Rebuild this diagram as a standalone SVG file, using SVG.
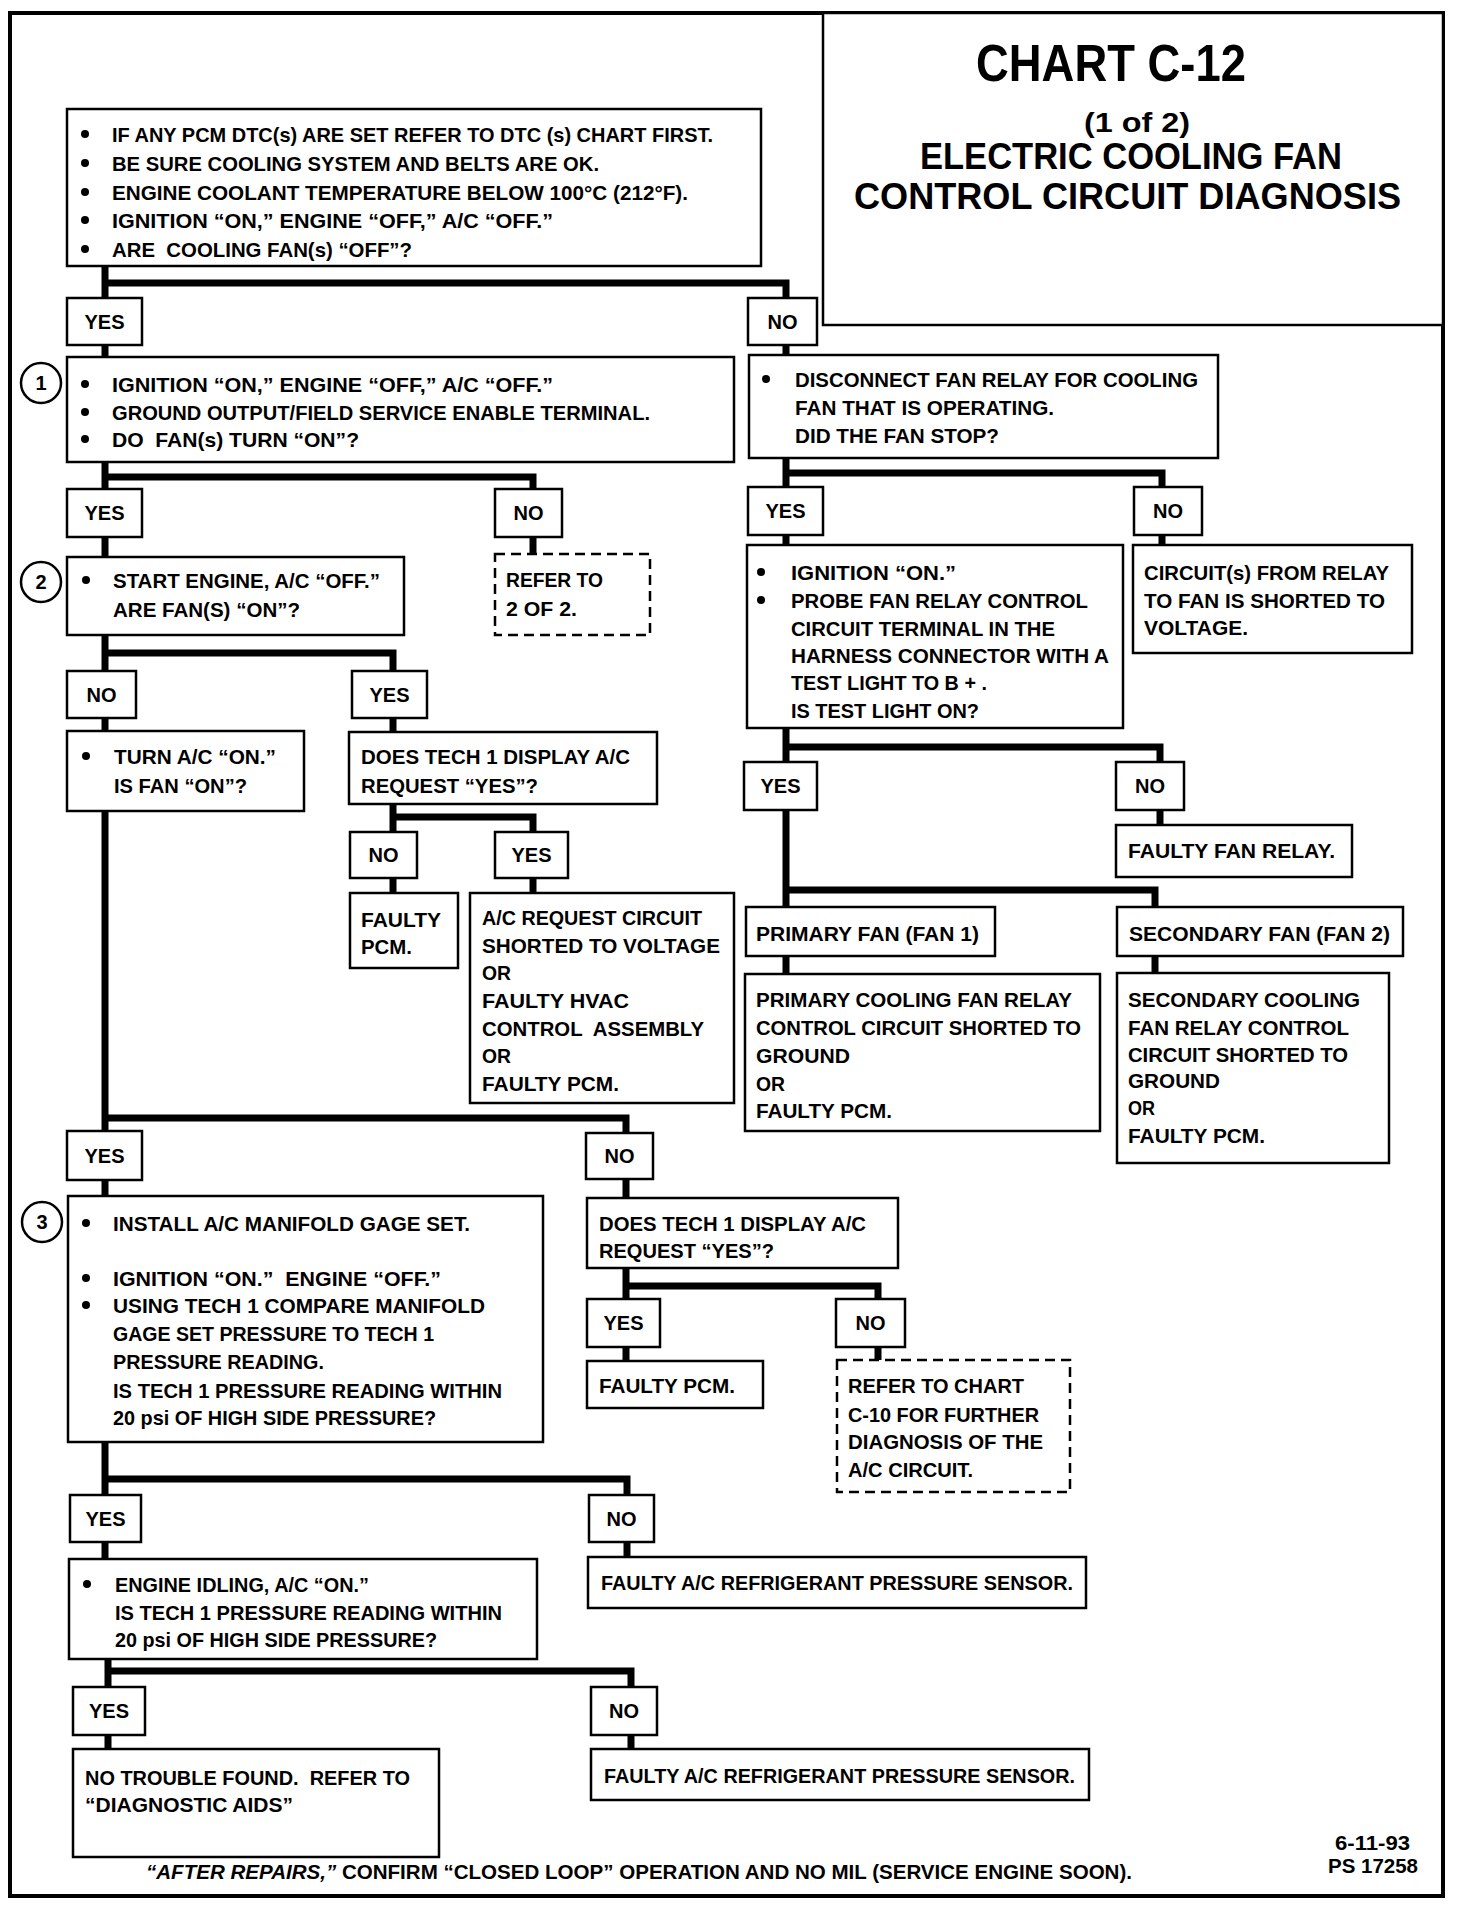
<svg xmlns="http://www.w3.org/2000/svg" width="1472" height="1906" viewBox="0 0 1472 1906">
<style>
.bg{fill:#fff}
.frame{fill:none;stroke:#000;stroke-width:4}
.tbox{fill:#fff;stroke:#000;stroke-width:2.5}
.box{fill:#fff;stroke:#000;stroke-width:2.5}
.dash{fill:#fff;stroke:#000;stroke-width:2.5;stroke-dasharray:10 6}
.conn{fill:none;stroke:#000;stroke-width:7;stroke-linejoin:miter;stroke-linecap:butt}
.t{font-family:"Liberation Sans",Arial,sans-serif;font-weight:bold;font-size:21px;fill:#000;white-space:pre}
.lbl{font-family:"Liberation Sans",Arial,sans-serif;font-weight:bold;font-size:20px;fill:#000;text-anchor:middle}
.ttl{font-family:"Liberation Sans",Arial,sans-serif;font-weight:bold;fill:#000}
.num{font-family:"Liberation Sans",Arial,sans-serif;font-weight:bold;font-size:20px;fill:#000;text-anchor:middle}
.circ{fill:#fff;stroke:#000;stroke-width:2.5}
.bul{fill:#000}
.it{font-style:italic}
</style>
<rect class="bg" x="0" y="0" width="1472" height="1906"/>
<rect class="frame" x="10" y="13" width="1433" height="1883"/>

<g id="title">
<rect class="tbox" x="823" y="13" width="620" height="312"/>
<text class="ttl" x="976" y="81" font-size="52" textLength="270" lengthAdjust="spacingAndGlyphs">CHART C-12</text>
<text class="ttl" x="1084" y="132" font-size="28" textLength="106" lengthAdjust="spacingAndGlyphs">(1 of 2)</text>
<text class="ttl" x="920" y="169" font-size="37" textLength="422" lengthAdjust="spacingAndGlyphs">ELECTRIC COOLING FAN</text>
<text class="ttl" x="854" y="209" font-size="37" textLength="547" lengthAdjust="spacingAndGlyphs">CONTROL CIRCUIT DIAGNOSIS</text>
</g>

<g id="connectors">
<path class="conn" d="M105,266 V357 M105,283 H786 V355"/>
<path class="conn" d="M105,462 V557 M105,477 H533 V554"/>
<path class="conn" d="M105,635 V731 M105,653 H393 V732"/>
<path class="conn" d="M393,804 V893 M393,817 H533 V893"/>
<path class="conn" d="M105,811 V1196 M105,1118 H626 V1198"/>
<path class="conn" d="M626,1268 V1361 M626,1286 H878 V1360"/>
<path class="conn" d="M105,1442 V1559 M105,1479 H627 V1557"/>
<path class="conn" d="M108,1659 V1749 M108,1671 H631 V1749"/>
<path class="conn" d="M786,458 V545 M786,473 H1162 V545"/>
<path class="conn" d="M786,728 V974 M786,747 H1160 V825 M786,890 H1155 V973"/>
</g>

<g id="n-start">
<rect class="box" x="67" y="109" width="694" height="157"/>
<circle class="bul" cx="85" cy="134" r="4"/>
<circle class="bul" cx="85" cy="163" r="4"/>
<circle class="bul" cx="85" cy="192" r="4"/>
<circle class="bul" cx="85" cy="220" r="4"/>
<circle class="bul" cx="85" cy="249" r="4"/>
<text class="t" x="112" y="142" textLength="601" lengthAdjust="spacingAndGlyphs">IF ANY PCM DTC(s) ARE SET REFER TO DTC (s) CHART FIRST.</text>
<text class="t" x="112" y="171" textLength="487" lengthAdjust="spacingAndGlyphs">BE SURE COOLING SYSTEM AND BELTS ARE OK.</text>
<text class="t" x="112" y="200" textLength="576" lengthAdjust="spacingAndGlyphs">ENGINE COOLANT TEMPERATURE BELOW 100°C (212°F).</text>
<text class="t" x="112" y="228" textLength="441" lengthAdjust="spacingAndGlyphs">IGNITION “ON,” ENGINE “OFF,” A/C “OFF.”</text>
<text class="t" x="112" y="257" textLength="300" lengthAdjust="spacingAndGlyphs">ARE  COOLING FAN(s) “OFF”?</text>
</g>

<g id="l-yes-1"><rect class="box" x="67" y="298" width="75" height="47"/><text class="lbl" x="104.5" y="329">YES</text></g>
<g id="l-no-1"><rect class="box" x="748" y="298" width="69" height="47"/><text class="lbl" x="782.5" y="329">NO</text></g>

<g id="n-step1">
<rect class="box" x="67" y="357" width="667" height="105"/>
<circle class="circ" cx="41" cy="383" r="20"/>
<text class="num" x="41" y="390">1</text>
<circle class="bul" cx="85" cy="384" r="4"/>
<circle class="bul" cx="85" cy="412" r="4"/>
<circle class="bul" cx="85" cy="439" r="4"/>
<text class="t" x="112" y="392" textLength="441" lengthAdjust="spacingAndGlyphs">IGNITION “ON,” ENGINE “OFF,” A/C “OFF.”</text>
<text class="t" x="112" y="420" textLength="538" lengthAdjust="spacingAndGlyphs">GROUND OUTPUT/FIELD SERVICE ENABLE TERMINAL.</text>
<text class="t" x="112" y="447" textLength="247" lengthAdjust="spacingAndGlyphs">DO  FAN(s) TURN “ON”?</text>
</g>

<g id="n-disconnect">
<rect class="box" x="749" y="355" width="469" height="103"/>
<circle class="bul" cx="766" cy="379" r="4"/>
<text class="t" x="795" y="387" textLength="403" lengthAdjust="spacingAndGlyphs">DISCONNECT FAN RELAY FOR COOLING</text>
<text class="t" x="795" y="415" textLength="259" lengthAdjust="spacingAndGlyphs">FAN THAT IS OPERATING.</text>
<text class="t" x="795" y="443" textLength="204" lengthAdjust="spacingAndGlyphs">DID THE FAN STOP?</text>
</g>

<g id="l-yes-2"><rect class="box" x="67" y="489" width="75" height="48"/><text class="lbl" x="104.5" y="520">YES</text></g>
<g id="l-no-2"><rect class="box" x="495" y="489" width="67" height="48"/><text class="lbl" x="528.5" y="520">NO</text></g>
<g id="l-yes-r1"><rect class="box" x="748" y="487" width="75" height="48"/><text class="lbl" x="785.5" y="518">YES</text></g>
<g id="l-no-r1"><rect class="box" x="1134" y="487" width="68" height="48"/><text class="lbl" x="1168" y="518">NO</text></g>

<g id="n-step2">
<rect class="box" x="67" y="557" width="337" height="78"/>
<circle class="circ" cx="41" cy="582" r="20"/>
<text class="num" x="41" y="589">2</text>
<circle class="bul" cx="86" cy="580" r="4"/>
<text class="t" x="113" y="588" textLength="267" lengthAdjust="spacingAndGlyphs">START ENGINE, A/C “OFF.”</text>
<text class="t" x="113" y="617" textLength="187" lengthAdjust="spacingAndGlyphs">ARE FAN(S) “ON”?</text>
</g>

<g id="n-refer-2of2">
<rect class="dash" x="495" y="554" width="155" height="81"/>
<text class="t" x="506" y="587" textLength="97" lengthAdjust="spacingAndGlyphs">REFER TO</text>
<text class="t" x="506" y="616" textLength="71" lengthAdjust="spacingAndGlyphs">2 OF 2.</text>
</g>

<g id="n-probe">
<rect class="box" x="747" y="545" width="376" height="183"/>
<circle class="bul" cx="761" cy="572" r="4"/>
<circle class="bul" cx="761" cy="600" r="4"/>
<text class="t" x="791" y="580" textLength="165" lengthAdjust="spacingAndGlyphs">IGNITION “ON.”</text>
<text class="t" x="791" y="608" textLength="297" lengthAdjust="spacingAndGlyphs">PROBE FAN RELAY CONTROL</text>
<text class="t" x="791" y="636" textLength="264" lengthAdjust="spacingAndGlyphs">CIRCUIT TERMINAL IN THE</text>
<text class="t" x="791" y="663" textLength="318" lengthAdjust="spacingAndGlyphs">HARNESS CONNECTOR WITH A</text>
<text class="t" x="791" y="690" textLength="196" lengthAdjust="spacingAndGlyphs">TEST LIGHT TO B + .</text>
<text class="t" x="791" y="718" textLength="188" lengthAdjust="spacingAndGlyphs">IS TEST LIGHT ON?</text>
</g>

<g id="n-circuit-shorted">
<rect class="box" x="1133" y="545" width="279" height="108"/>
<text class="t" x="1144" y="580" textLength="245" lengthAdjust="spacingAndGlyphs">CIRCUIT(s) FROM RELAY</text>
<text class="t" x="1144" y="608" textLength="241" lengthAdjust="spacingAndGlyphs">TO FAN IS SHORTED TO</text>
<text class="t" x="1144" y="635" textLength="104" lengthAdjust="spacingAndGlyphs">VOLTAGE.</text>
</g>

<g id="l-no-3"><rect class="box" x="67" y="671" width="69" height="47"/><text class="lbl" x="101.5" y="702">NO</text></g>
<g id="l-yes-3"><rect class="box" x="352" y="671" width="75" height="47"/><text class="lbl" x="389.5" y="702">YES</text></g>

<g id="n-turn-ac">
<rect class="box" x="67" y="731" width="237" height="80"/>
<circle class="bul" cx="86" cy="756" r="4"/>
<text class="t" x="114" y="764" textLength="162" lengthAdjust="spacingAndGlyphs">TURN A/C “ON.”</text>
<text class="t" x="114" y="793" textLength="133" lengthAdjust="spacingAndGlyphs">IS FAN “ON”?</text>
</g>

<g id="n-tech1-a">
<rect class="box" x="349" y="732" width="308" height="72"/>
<text class="t" x="361" y="764" textLength="269" lengthAdjust="spacingAndGlyphs">DOES TECH 1 DISPLAY A/C</text>
<text class="t" x="361" y="793" textLength="177" lengthAdjust="spacingAndGlyphs">REQUEST “YES”?</text>
</g>

<g id="l-yes-r2"><rect class="box" x="744" y="762" width="73" height="48"/><text class="lbl" x="780.5" y="793">YES</text></g>
<g id="l-no-r2"><rect class="box" x="1116" y="762" width="68" height="48"/><text class="lbl" x="1150" y="793">NO</text></g>

<g id="l-no-4"><rect class="box" x="350" y="832" width="67" height="46"/><text class="lbl" x="383.5" y="862">NO</text></g>
<g id="l-yes-4"><rect class="box" x="495" y="832" width="73" height="46"/><text class="lbl" x="531.5" y="862">YES</text></g>

<g id="n-faulty-relay">
<rect class="box" x="1116" y="825" width="236" height="52"/>
<text class="t" x="1128" y="858" textLength="207" lengthAdjust="spacingAndGlyphs">FAULTY FAN RELAY.</text>
</g>

<g id="n-faulty-pcm-a">
<rect class="box" x="350" y="893" width="108" height="75"/>
<text class="t" x="361" y="927" textLength="80" lengthAdjust="spacingAndGlyphs">FAULTY</text>
<text class="t" x="361" y="954" textLength="51" lengthAdjust="spacingAndGlyphs">PCM.</text>
</g>

<g id="n-ac-request">
<rect class="box" x="470" y="893" width="264" height="210"/>
<text class="t" x="482" y="925" textLength="220" lengthAdjust="spacingAndGlyphs">A/C REQUEST CIRCUIT</text>
<text class="t" x="482" y="953" textLength="238" lengthAdjust="spacingAndGlyphs">SHORTED TO VOLTAGE</text>
<text class="t" x="482" y="980" textLength="29" lengthAdjust="spacingAndGlyphs">OR</text>
<text class="t" x="482" y="1008" textLength="147" lengthAdjust="spacingAndGlyphs">FAULTY HVAC</text>
<text class="t" x="482" y="1036" textLength="222" lengthAdjust="spacingAndGlyphs">CONTROL  ASSEMBLY</text>
<text class="t" x="482" y="1063" textLength="29" lengthAdjust="spacingAndGlyphs">OR</text>
<text class="t" x="482" y="1091" textLength="137" lengthAdjust="spacingAndGlyphs">FAULTY PCM.</text>
</g>

<g id="n-primary-fan">
<rect class="box" x="746" y="907" width="249" height="49"/>
<text class="t" x="756" y="941" textLength="223" lengthAdjust="spacingAndGlyphs">PRIMARY FAN (FAN 1)</text>
</g>
<g id="n-secondary-fan">
<rect class="box" x="1117" y="907" width="286" height="49"/>
<text class="t" x="1129" y="941" textLength="261" lengthAdjust="spacingAndGlyphs">SECONDARY FAN (FAN 2)</text>
</g>

<g id="n-primary-cooling">
<rect class="box" x="745" y="974" width="355" height="157"/>
<text class="t" x="756" y="1007" textLength="316" lengthAdjust="spacingAndGlyphs">PRIMARY COOLING FAN RELAY</text>
<text class="t" x="756" y="1035" textLength="325" lengthAdjust="spacingAndGlyphs">CONTROL CIRCUIT SHORTED TO</text>
<text class="t" x="756" y="1063" textLength="94" lengthAdjust="spacingAndGlyphs">GROUND</text>
<text class="t" x="756" y="1091" textLength="29" lengthAdjust="spacingAndGlyphs">OR</text>
<text class="t" x="756" y="1118" textLength="136" lengthAdjust="spacingAndGlyphs">FAULTY PCM.</text>
</g>

<g id="n-secondary-cooling">
<rect class="box" x="1117" y="973" width="272" height="190"/>
<text class="t" x="1128" y="1007" textLength="232" lengthAdjust="spacingAndGlyphs">SECONDARY COOLING</text>
<text class="t" x="1128" y="1035" textLength="221" lengthAdjust="spacingAndGlyphs">FAN RELAY CONTROL</text>
<text class="t" x="1128" y="1062" textLength="220" lengthAdjust="spacingAndGlyphs">CIRCUIT SHORTED TO</text>
<text class="t" x="1128" y="1088" textLength="92" lengthAdjust="spacingAndGlyphs">GROUND</text>
<text class="t" x="1128" y="1115" textLength="27" lengthAdjust="spacingAndGlyphs">OR</text>
<text class="t" x="1128" y="1143" textLength="137" lengthAdjust="spacingAndGlyphs">FAULTY PCM.</text>
</g>

<g id="l-yes-5"><rect class="box" x="67" y="1131" width="75" height="49"/><text class="lbl" x="104.5" y="1163">YES</text></g>
<g id="l-no-5"><rect class="box" x="586" y="1133" width="67" height="46"/><text class="lbl" x="619.5" y="1163">NO</text></g>

<g id="n-step3">
<rect class="box" x="68" y="1196" width="475" height="246"/>
<circle class="circ" cx="42" cy="1222" r="20"/>
<text class="num" x="42" y="1229">3</text>
<circle class="bul" cx="86" cy="1223" r="4"/>
<circle class="bul" cx="86" cy="1278" r="4"/>
<circle class="bul" cx="86" cy="1305" r="4"/>
<text class="t" x="113" y="1231" textLength="357" lengthAdjust="spacingAndGlyphs">INSTALL A/C MANIFOLD GAGE SET.</text>
<text class="t" x="113" y="1286" textLength="328" lengthAdjust="spacingAndGlyphs">IGNITION “ON.”  ENGINE “OFF.”</text>
<text class="t" x="113" y="1313" textLength="372" lengthAdjust="spacingAndGlyphs">USING TECH 1 COMPARE MANIFOLD</text>
<text class="t" x="113" y="1341" textLength="321" lengthAdjust="spacingAndGlyphs">GAGE SET PRESSURE TO TECH 1</text>
<text class="t" x="113" y="1369" textLength="211" lengthAdjust="spacingAndGlyphs">PRESSURE READING.</text>
<text class="t" x="113" y="1398" textLength="389" lengthAdjust="spacingAndGlyphs">IS TECH 1 PRESSURE READING WITHIN</text>
<text class="t" x="113" y="1425" textLength="323" lengthAdjust="spacingAndGlyphs">20 psi OF HIGH SIDE PRESSURE?</text>
</g>

<g id="n-tech1-b">
<rect class="box" x="587" y="1198" width="311" height="70"/>
<text class="t" x="599" y="1231" textLength="267" lengthAdjust="spacingAndGlyphs">DOES TECH 1 DISPLAY A/C</text>
<text class="t" x="599" y="1258" textLength="175" lengthAdjust="spacingAndGlyphs">REQUEST “YES”?</text>
</g>

<g id="l-yes-6"><rect class="box" x="587" y="1299" width="73" height="48"/><text class="lbl" x="623.5" y="1330">YES</text></g>
<g id="l-no-6"><rect class="box" x="836" y="1299" width="69" height="48"/><text class="lbl" x="870.5" y="1330">NO</text></g>

<g id="n-faulty-pcm-b">
<rect class="box" x="587" y="1361" width="176" height="47"/>
<text class="t" x="599" y="1393" textLength="136" lengthAdjust="spacingAndGlyphs">FAULTY PCM.</text>
</g>

<g id="n-refer-c10">
<rect class="dash" x="837" y="1360" width="233" height="132"/>
<text class="t" x="848" y="1393" textLength="176" lengthAdjust="spacingAndGlyphs">REFER TO CHART</text>
<text class="t" x="848" y="1422" textLength="191" lengthAdjust="spacingAndGlyphs">C-10 FOR FURTHER</text>
<text class="t" x="848" y="1449" textLength="195" lengthAdjust="spacingAndGlyphs">DIAGNOSIS OF THE</text>
<text class="t" x="848" y="1477" textLength="125" lengthAdjust="spacingAndGlyphs">A/C CIRCUIT.</text>
</g>

<g id="l-yes-7"><rect class="box" x="70" y="1495" width="71" height="47"/><text class="lbl" x="105.5" y="1526">YES</text></g>
<g id="l-no-7"><rect class="box" x="589" y="1495" width="65" height="47"/><text class="lbl" x="621.5" y="1526">NO</text></g>

<g id="n-idling">
<rect class="box" x="69" y="1559" width="468" height="100"/>
<circle class="bul" cx="87" cy="1584" r="4"/>
<text class="t" x="115" y="1592" textLength="254" lengthAdjust="spacingAndGlyphs">ENGINE IDLING, A/C “ON.”</text>
<text class="t" x="115" y="1620" textLength="387" lengthAdjust="spacingAndGlyphs">IS TECH 1 PRESSURE READING WITHIN</text>
<text class="t" x="115" y="1647" textLength="322" lengthAdjust="spacingAndGlyphs">20 psi OF HIGH SIDE PRESSURE?</text>
</g>

<g id="n-sensor-a">
<rect class="box" x="588" y="1557" width="498" height="51"/>
<text class="t" x="601" y="1590" textLength="472" lengthAdjust="spacingAndGlyphs">FAULTY A/C REFRIGERANT PRESSURE SENSOR.</text>
</g>

<g id="l-yes-8"><rect class="box" x="73" y="1687" width="72" height="48"/><text class="lbl" x="109" y="1718">YES</text></g>
<g id="l-no-8"><rect class="box" x="591" y="1687" width="66" height="48"/><text class="lbl" x="624" y="1718">NO</text></g>

<g id="n-no-trouble">
<rect class="box" x="73" y="1749" width="366" height="108"/>
<text class="t" x="85" y="1785" textLength="325" lengthAdjust="spacingAndGlyphs">NO TROUBLE FOUND.  REFER TO</text>
<text class="t" x="85" y="1812" textLength="208" lengthAdjust="spacingAndGlyphs">“DIAGNOSTIC AIDS”</text>
</g>

<g id="n-sensor-b">
<rect class="box" x="591" y="1749" width="498" height="51"/>
<text class="t" x="604" y="1783" textLength="471" lengthAdjust="spacingAndGlyphs">FAULTY A/C REFRIGERANT PRESSURE SENSOR.</text>
</g>

<g id="footer">
<text class="t" x="146" y="1879" font-size="20" textLength="986" lengthAdjust="spacingAndGlyphs"><tspan class="it">“AFTER REPAIRS,”</tspan> CONFIRM “CLOSED LOOP” OPERATION AND NO MIL (SERVICE ENGINE SOON).</text>
<text class="t" x="1335" y="1850" font-size="17" textLength="75" lengthAdjust="spacingAndGlyphs">6-11-93</text>
<text class="t" x="1328" y="1873" font-size="17" textLength="90" lengthAdjust="spacingAndGlyphs">PS 17258</text>
</g>
</svg>
